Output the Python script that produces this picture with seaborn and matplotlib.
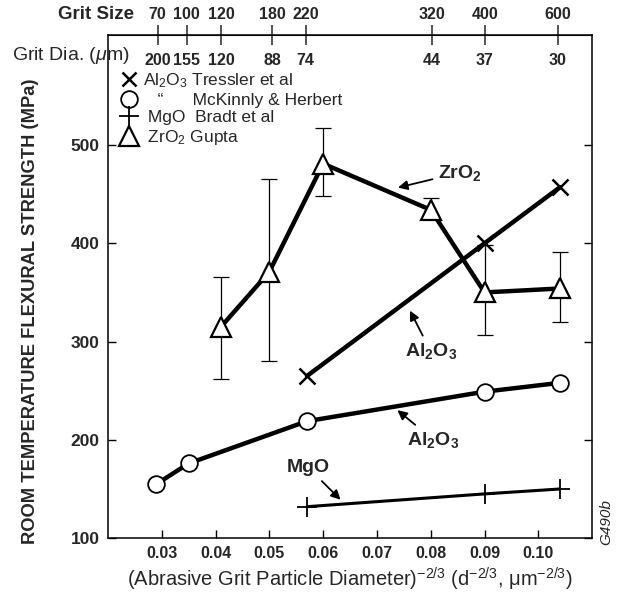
import matplotlib
matplotlib.use("Agg")
import matplotlib.pyplot as plt
from matplotlib.lines import Line2D
import numpy as np
import pandas as pd
import seaborn as sns

sns.set_style("ticks")
plt.rcParams['font.family'] = ['Liberation Sans', 'DejaVu Sans']
plt.rcParams['mathtext.fontset'] = 'custom'
plt.rcParams['mathtext.rm'] = 'Liberation Sans'
plt.rcParams['mathtext.bf'] = 'Liberation Sans:bold'
plt.rcParams['mathtext.it'] = 'Liberation Sans:italic'

# data: x = d^-2/3, y = strength (MPa)
tressler_x = [0.057, 0.090, 0.104]
tressler_y = [265, 400, 457]

mckinnly_x = [0.029, 0.035, 0.057, 0.090, 0.104]
mckinnly_y = [155, 176, 219, 249, 258]

mgo_x = [0.057, 0.090, 0.104]
mgo_y = [132, 145, 150]

gupta_x = [0.041, 0.050, 0.060, 0.080, 0.090, 0.104]
gupta_y = [315, 371, 481, 434, 350, 354]
gupta_lo = [262, 280, 448, 427, 307, 320]
gupta_hi = [366, 465, 517, 446, 398, 391]

grit_size = ["70", "100", "120", "180", "220", "320", "400", "600"]
grit_dia = [200, 155, 120, 88, 74, 44, 37, 30]

x_ticks = [0.03, 0.04, 0.05, 0.06, 0.07, 0.08, 0.09, 0.10]
y_ticks = [100, 200, 300, 400, 500]

fig = plt.figure(figsize=(6.24, 5.92), dpi=100)
ax = fig.add_axes([0.173, 0.091, 0.776, 0.850])

# error bars for Gupta
g = pd.DataFrame({"x": gupta_x, "y": gupta_y, "lo": gupta_lo, "hi": gupta_hi})
ax.errorbar(g["x"], g["y"], yerr=[g["y"] - g["lo"], g["hi"] - g["y"]],
            fmt="none", ecolor="black", elinewidth=0.9, capsize=6, capthick=0.9, zorder=2)

sns.lineplot(x=tressler_x, y=tressler_y, ax=ax, color="black", lw=3.2, sort=False,
             marker="x", markersize=11, markeredgecolor="black", markeredgewidth=1.8, zorder=3)
sns.lineplot(x=mckinnly_x, y=mckinnly_y, ax=ax, color="black", lw=3.2, sort=False,
             marker="o", markersize=12, markerfacecolor="white", markeredgecolor="black",
             markeredgewidth=1.3, zorder=4)
sns.lineplot(x=mgo_x, y=mgo_y, ax=ax, color="black", lw=2.2, sort=False,
             marker="+", markersize=15, markeredgecolor="black", markeredgewidth=1.3, zorder=3)
sns.lineplot(x=gupta_x, y=gupta_y, ax=ax, color="black", lw=3.2, sort=False,
             marker="^", markersize=15, markerfacecolor="white", markeredgecolor="black",
             markeredgewidth=1.6, zorder=4)

ax.set_xlim(0.020, 0.110)
ax.set_ylim(100, 612)
ax.set_xticks(x_ticks)
ax.set_xticklabels([f"{v:.2f}" for v in x_ticks], fontweight="bold", fontsize=11.5)
ax.set_yticks(y_ticks)
ax.set_yticklabels([str(v) for v in y_ticks], fontweight="bold", fontsize=12.5)
ax.tick_params(axis="both", direction="in", length=6, width=1, color="black",
               right=True, top=False, pad=6)
for s in ax.spines.values():
    s.set_linewidth(1.1)
    s.set_color("black")

ax.set_xlabel("(Abrasive Grit Particle Diameter)$^{-2/3}$ (d$^{-2/3}$, μm$^{-2/3}$)",
              fontsize=14.5, labelpad=3)
ax.set_ylabel("ROOM TEMPERATURE FLEXURAL STRENGTH (MPa)", fontsize=13.2,
              fontweight="bold", labelpad=8)
ax.yaxis.set_label_coords(-0.143, 0.45)

# top axes: grit size (above) and grit diameter (below the line)
dia_pos = np.array(grit_dia, dtype=float) ** (-2.0 / 3.0)
top1 = ax.secondary_xaxis("top")
top1.set_xticks(dia_pos, labels=grit_size, fontweight="bold", fontsize=11.5)
top1.tick_params(axis="x", direction="inout", length=14, width=1.1, pad=2)
top2 = ax.secondary_xaxis("top")
top2.set_alignment("bottom")
top2.set_xticks(dia_pos, labels=[str(d) for d in grit_dia], fontweight="bold", fontsize=11.5)
top2.tick_params(axis="x", length=7, width=0, pad=6)
top2.spines["bottom"].set_visible(False)
top2.spines["top"].set_visible(False)
ax.text(0.054, 1.04, "Grit Size", transform=ax.transAxes, ha="right", va="center",
        fontsize=13.5, fontweight="bold")
ax.text(0.045, 0.96, "Grit Dia. ($\\mathit{μ}$m)", transform=ax.transAxes, ha="right",
        va="center", fontsize=14)

# legend
handles = [
    Line2D([], [], ls="none", marker="x", color="black", markersize=10, markeredgewidth=1.8),
    Line2D([], [], ls="none", marker="o", markerfacecolor="white", markeredgecolor="black",
           markersize=12, markeredgewidth=1.3),
    Line2D([], [], ls="none", marker="+", color="black", markersize=15, markeredgewidth=1.3),
    Line2D([], [], ls="none", marker="^", markerfacecolor="white", markeredgecolor="black",
           markersize=14, markeredgewidth=1.6),
]
labels = ["Al$_2$O$_3$ Tressler et al",
          "   \u201c      McKinnly & Herbert",
          " MgO  Bradt et al",
          " ZrO$_2$ Gupta"]
ax.legend(handles, labels, loc="upper left", bbox_to_anchor=(0.0, 0.952), frameon=False,
          handlelength=1.0, handletextpad=0.3, labelspacing=0.15, fontsize=12.5,
          borderaxespad=0.3)

# arrow annotations
arrow = dict(arrowstyle="-|>", color="black", lw=1.3, mutation_scale=14)
ax.annotate("ZrO$_\\mathbf{2}$", xy=(0.0734, 456), xytext=(0.0855, 472), fontsize=14,
            fontweight="bold", ha="center", va="center", arrowprops=arrow)
ax.annotate("Al$_\\mathbf{2}$O$_\\mathbf{3}$", xy=(0.0759, 334), xytext=(0.0800, 290),
            fontsize=14, fontweight="bold", ha="center", va="center", arrowprops=arrow)
ax.annotate("Al$_\\mathbf{2}$O$_\\mathbf{3}$", xy=(0.0734, 232), xytext=(0.0805, 200),
            fontsize=14, fontweight="bold", ha="center", va="center", arrowprops=arrow)
ax.annotate("MgO", xy=(0.0636, 137), xytext=(0.0572, 172), fontsize=14,
            fontweight="bold", ha="center", va="center", arrowprops=arrow)

fig.text(0.972, 0.118, "G490b", rotation=90, fontsize=11, style="italic",
         ha="center", va="center")

fig.savefig("out.png", dpi=100)
